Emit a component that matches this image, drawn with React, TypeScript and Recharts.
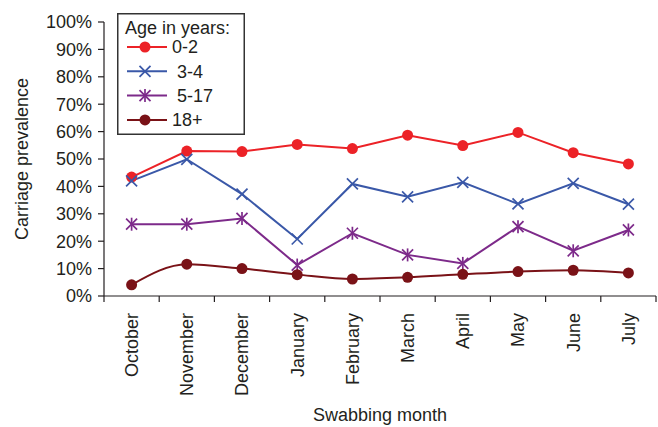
import { Label, Legend, Line, LineChart, XAxis, YAxis } from "recharts";

const months = ["October", "November", "December", "January", "February", "March", "April", "May", "June", "July"];
const age0to2 = [43.4, 52.9, 52.7, 55.3, 53.8, 58.7, 54.9, 59.7, 52.3, 48.2];
const age3to4 = [42.0, 49.9, 37.2, 20.8, 40.9, 36.2, 41.5, 33.6, 41.1, 33.5];
const age5to17 = [26.2, 26.2, 28.3, 11.3, 22.9, 15.0, 11.9, 25.3, 16.5, 24.1];
const age18plus = [4.1, 11.6, 10.0, 7.8, 6.2, 6.8, 7.9, 8.9, 9.4, 8.4];
const yTicks = [0, 10, 20, 30, 40, 50, 60, 70, 80, 90, 100];
const boundTicks = [0, 1, 2, 3, 4, 5, 6, 7, 8, 9, 10];

const FONT = "'Liberation Sans', Arial, Helvetica, sans-serif";
const INK = "#231f20";

type MarkerKind = "circle" | "cross" | "star";

const series: { key: string; label: string; color: string; marker: MarkerKind; smooth: boolean }[] = [
  { key: "a", label: "0-2", color: "#ec2227", marker: "circle", smooth: false },
  { key: "b", label: " 3-4", color: "#3a58a8", marker: "cross", smooth: false },
  { key: "c", label: " 5-17", color: "#7d2a8a", marker: "star", smooth: false },
  { key: "d", label: "18+", color: "#7a1217", marker: "circle", smooth: true }
];

const data = months.map((month, i) => ({
  x: i + 0.5,
  month,
  a: age0to2[i],
  b: age3to4[i],
  c: age5to17[i],
  d: age18plus[i]
}));

function Marker({ kind, cx, cy, color }: { kind: MarkerKind; cx: number; cy: number; color: string }) {
  if (kind === "circle") return <circle cx={cx} cy={cy} r={5.5} fill={color} />;
  const s = 5.5;
  return (
    <g stroke={color} strokeWidth={1.7}>
      <line x1={cx - s} y1={cy - s} x2={cx + s} y2={cy + s} />
      <line x1={cx - s} y1={cy + s} x2={cx + s} y2={cy - s} />
      {kind === "star" && <line x1={cx} y1={cy - s - 1} x2={cx} y2={cy + s + 1} />}
    </g>
  );
}

function MonthTick(props: any) {
  const { x, y, payload, index } = props;
  return (
    <text
      transform={`translate(${x},${y + 8}) rotate(-90)`}
      textAnchor="end"
      dy="0.36em"
      fontSize={18}
      fontFamily={FONT}
      fill={INK}
    >
      {months[index] ?? payload.value}
    </text>
  );
}

function LegendBox() {
  return (
    <svg width={128} height={122} style={{ display: "block" }}>
      <rect x={0.75} y={0.75} width={126.5} height={120.5} fill="#fff" stroke="#333" strokeWidth={1.5} />
      <text x={8} y={21} fontSize={18} fontFamily={FONT} fill={INK}>
        Age in years:
      </text>
      {series.map((s, i) => {
        const cy = 34 + i * 24.3;
        return (
          <g key={s.key}>
            <line x1={10} y1={cy} x2={50} y2={cy} stroke={s.color} strokeWidth={2} />
            <Marker kind={s.marker} cx={28} cy={cy} color={s.color} />
            <text x={55} y={cy} dy="0.36em" fontSize={18} fontFamily={FONT} fill={INK} style={{ whiteSpace: "pre" }}>
              {s.label}
            </text>
          </g>
        );
      })}
    </svg>
  );
}

export default function App() {
  return (
    <div style={{ position: "absolute", left: 0, top: 0, background: "#fff" }}>
      <LineChart width={658} height={427} data={data} margin={{ top: 22, right: 2, left: 44, bottom: 0 }}>
        <XAxis
          dataKey="x"
          type="number"
          domain={[0, 10]}
          ticks={boundTicks}
          interval={0}
          tickFormatter={() => ""}
          tickSize={6}
          height={1}
          stroke={INK}
          strokeWidth={1.2}
        />
        <XAxis
          xAxisId="labels"
          dataKey="x"
          type="number"
          domain={[0, 10]}
          ticks={data.map((d) => d.x)}
          tick={<MonthTick />}
          tickLine={false}
          axisLine={false}
          height={130}
          interval={0}
        >
          <Label
            content={(p: any) => {
              const vb = p.viewBox;
              return (
                <text
                  x={vb.x + vb.width / 2}
                  y={vb.y + vb.height - 6}
                  textAnchor="middle"
                  fontSize={18}
                  fontFamily={FONT}
                  fill={INK}
                >
                  Swabbing month
                </text>
              );
            }}
          />
        </XAxis>
        <YAxis
          domain={[0, 100]}
          ticks={yTicks}
          interval={0}
          width={60}
          tickSize={6}
          tickMargin={6}
          tickFormatter={(v) => `${v}%`}
          tick={{ fontSize: 18, fontFamily: FONT, fill: INK }}
          stroke={INK}
          strokeWidth={1.2}
        >
          <Label
            content={(p: any) => {
              const vb = p.viewBox;
              const cy = vb.y + vb.height / 2;
              return (
                <text
                  x={22}
                  y={cy}
                  transform={`rotate(-90, 22, ${cy})`}
                  textAnchor="middle"
                  dy="0.36em"
                  fontSize={18}
                  fontFamily={FONT}
                  fill={INK}
                >
                  Carriage prevalence
                </text>
              );
            }}
          />
        </YAxis>
        <Legend
          layout="vertical"
          align="center"
          verticalAlign="middle"
          wrapperStyle={{ left: 117, top: 13, width: 128, height: 122 }}
          content={() => <LegendBox />}
        />
        {series.map((s) => (
          <Line
            key={s.key}
            dataKey={s.key}
            type={s.smooth ? "monotone" : "linear"}
            stroke={s.color}
            strokeWidth={2}
            isAnimationActive={false}
            dot={(p: any) => <Marker key={`${s.key}-${p.index}`} kind={s.marker} cx={p.cx} cy={p.cy} color={s.color} />}
            activeDot={false}
          />
        ))}
      </LineChart>
    </div>
  );
}
